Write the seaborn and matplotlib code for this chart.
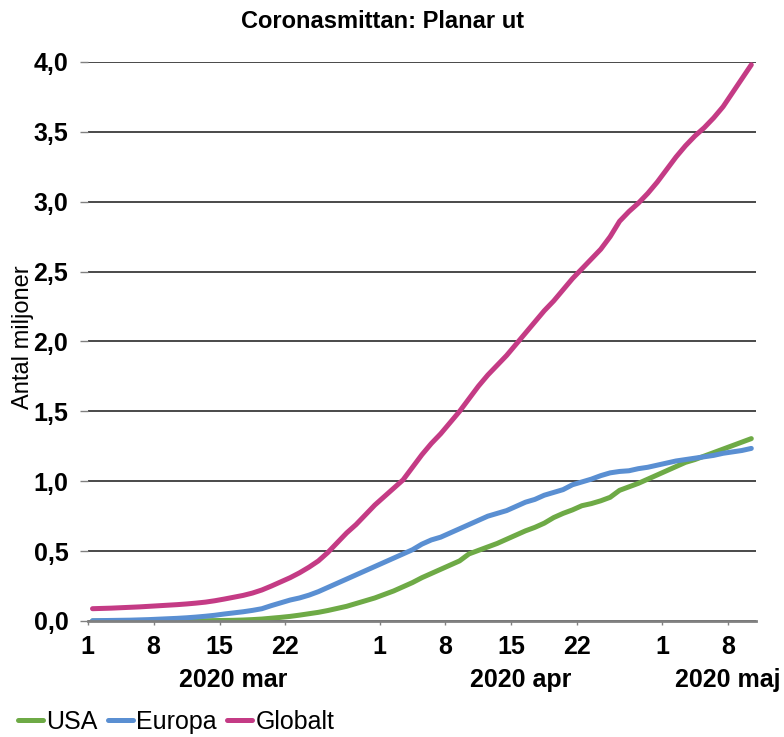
import pandas as pd
import seaborn as sns
import matplotlib.pyplot as plt
import matplotlib.dates as mdates
from matplotlib.ticker import FuncFormatter, MultipleLocator

# daily cumulative cases, million, 2020-03-01 .. 2020-05-10
start_date = '2020-03-01 12:00'

usa = [0.000, 0.000, 0.000, 0.000, 0.000, 0.000, 0.000, 0.000, 0.000, 0.001,
       0.001, 0.001, 0.002, 0.003, 0.004, 0.005, 0.007, 0.010, 0.014, 0.020,
       0.026, 0.033, 0.042, 0.052, 0.062, 0.075, 0.090, 0.105, 0.125, 0.145,
       0.165, 0.190, 0.215, 0.245, 0.275, 0.310, 0.340, 0.370, 0.400, 0.430,
       0.480, 0.505, 0.530, 0.555, 0.585, 0.615, 0.645, 0.670, 0.700, 0.740,
       0.770, 0.795, 0.825, 0.840, 0.860, 0.885, 0.935, 0.960, 0.985, 1.015,
       1.045, 1.075, 1.105, 1.135, 1.155, 1.180, 1.205, 1.230, 1.255, 1.280,
       1.305]

europa = [0.002, 0.003, 0.004, 0.005, 0.006, 0.008, 0.010, 0.013, 0.016, 0.019,
          0.023, 0.028, 0.034, 0.041, 0.050, 0.058, 0.066, 0.076, 0.088, 0.110,
          0.130, 0.150, 0.165, 0.185, 0.210, 0.240, 0.270, 0.300, 0.330, 0.360,
          0.390, 0.420, 0.450, 0.480, 0.510, 0.550, 0.580, 0.600, 0.630, 0.660,
          0.690, 0.720, 0.750, 0.770, 0.790, 0.820, 0.850, 0.870, 0.900, 0.920,
          0.940, 0.975, 0.995, 1.015, 1.040, 1.060, 1.070, 1.075, 1.090, 1.100,
          1.115, 1.130, 1.145, 1.155, 1.165, 1.175, 1.185, 1.200, 1.210, 1.220,
          1.235]

globalt = [0.088, 0.090, 0.092, 0.095, 0.098, 0.101, 0.105, 0.109, 0.113, 0.117,
           0.122, 0.128, 0.135, 0.145, 0.157, 0.170, 0.183, 0.200, 0.222, 0.250,
           0.280, 0.310, 0.345, 0.385, 0.430, 0.490, 0.560, 0.630, 0.690, 0.760,
           0.830, 0.890, 0.950, 1.010, 1.100, 1.190, 1.270, 1.340, 1.420, 1.500,
           1.590, 1.680, 1.760, 1.830, 1.900, 1.980, 2.060, 2.140, 2.220, 2.290,
           2.370, 2.450, 2.520, 2.590, 2.660, 2.750, 2.860, 2.930, 2.990, 3.060,
           3.140, 3.230, 3.320, 3.400, 3.470, 3.530, 3.600, 3.680, 3.780, 3.880,
           3.980]

series_names = ['USA', 'Europa', 'Globalt']
colors = ['#6EAA46', '#5A8FD2', '#C43B85']

dates = pd.date_range(start_date, periods=len(globalt), freq='D')
df = pd.DataFrame({'Datum': dates, 'USA': usa, 'Europa': europa, 'Globalt': globalt})
df = df.melt(id_vars='Datum', var_name='Serie', value_name='Antal')

sns.set_style('white')
plt.rcParams['font.family'] = ['Liberation Sans', 'DejaVu Sans']
plt.rcParams['text.color'] = 'black'
plt.rcParams['xtick.labelcolor'] = 'black'
plt.rcParams['ytick.labelcolor'] = 'black'

fig, ax = plt.subplots(figsize=(7.84, 7.37), dpi=100)
fig.subplots_adjust(left=0.112, right=0.9643, bottom=0.1574, top=0.9159)

sns.lineplot(data=df, x='Datum', y='Antal', hue='Serie', hue_order=series_names,
             palette=colors, linewidth=3.6, ax=ax, legend=False)

ax.set_xlim(pd.Timestamp('2020-03-01'), pd.Timestamp('2020-05-11'))
ax.set_ylim(0, 4)
ax.yaxis.set_major_locator(MultipleLocator(0.5))
ax.yaxis.set_major_formatter(FuncFormatter(lambda v, p: f'{v:.1f}'.replace('.', ',')))
ax.grid(axis='y', color='#3a3a3a', linewidth=1.3)
ax.set_axisbelow(True)

# day ticks 1, 8, 15, 22 labelled, month starts get a longer tick
ax.xaxis.set_major_locator(mdates.DayLocator(bymonthday=[1, 8, 15, 22]))
ax.xaxis.set_major_formatter(FuncFormatter(lambda v, p: str(mdates.num2date(v).day)))
ax.xaxis.set_minor_locator(mdates.MonthLocator())
ax.tick_params(axis='x', which='major', length=3, width=1, color='#808080', pad=7,
               labelsize=18, direction='out', bottom=True)
ax.tick_params(axis='x', which='minor', length=7, width=1, color='#808080', bottom=True)
ax.tick_params(axis='y', length=6, width=1, color='#808080', pad=8, labelsize=18, left=True)
for lab in ax.get_xticklabels() + ax.get_yticklabels():
    lab.set_fontweight('bold')

for s in ['left', 'top', 'right']:
    ax.spines[s].set_visible(False)
ax.spines['bottom'].set_color('#808080')
ax.spines['bottom'].set_linewidth(2)

ax.set_xlabel('')
ax.set_ylabel('')

# month labels under the day ticks
month_labels = ['2020 mar', '2020 apr', '2020 maj']
month_pos = ['2020-03-16 12:00', '2020-04-16', '2020-05-08']
for txt, pos in zip(month_labels, month_pos):
    ax.text(pd.Timestamp(pos), -0.106, txt, transform=ax.get_xaxis_transform(),
            ha='center', va='center', fontsize=18, fontweight='bold')

fig.text(0.488, 1 - 21 / 737, 'Coronasmittan: Planar ut', ha='center', va='center',
         fontsize=17, fontweight='bold')
fig.text(0.029, 0.543, 'Antal miljoner', rotation=90, ha='center', va='center', fontsize=17)

handles = [plt.Line2D([], [], color=c, linewidth=3.6) for c in colors]
fig.legend(handles, series_names, loc='lower left', bbox_to_anchor=(0.0, -0.02),
           ncol=3, frameon=False, fontsize=18, handlelength=1.0, handletextpad=0.15,
           columnspacing=0.4, borderaxespad=0.3)

plt.savefig('out.png', dpi=100)
